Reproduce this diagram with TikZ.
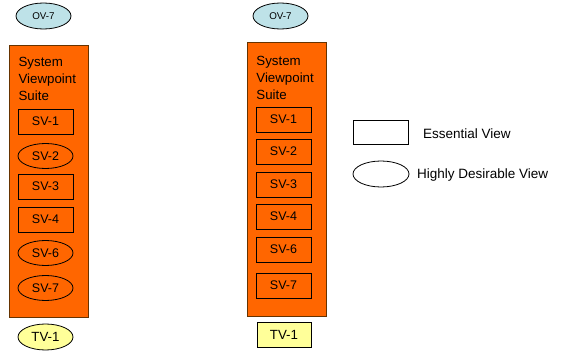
\documentclass[tikz,border=0pt]{standalone}
\usepackage{fontspec}
\setmainfont{Liberation Sans}
\usetikzlibrary{shapes.geometric}
\definecolor{suiteorange}{RGB}{255,102,0}
\definecolor{suiteedge}{RGB}{102,51,0}
\definecolor{opblue}{RGB}{190,226,232}
\definecolor{techyellow}{RGB}{255,255,153}
\tikzset{
  essential/.style={draw,rectangle,line width=0.8pt,minimum width=55pt,minimum height=25pt,inner sep=0pt,font=\fontsize{12.5}{14}\selectfont},
  desirable/.style={draw,ellipse,line width=0.8pt,minimum width=55pt,minimum height=25pt,inner sep=0pt,font=\fontsize{12.5}{14}\selectfont},
  suitebox/.style={draw=suiteedge,fill=suiteorange,line width=1pt,rectangle,inner sep=0pt},
  suitetitle/.style={anchor=north west,inner sep=0pt,align=left,font=\fontsize{13.3}{17}\selectfont},
  legendtext/.style={anchor=west,inner sep=0pt,font=\fontsize{13.5}{15}\selectfont}
}
\begin{document}
\begin{tikzpicture}[x=1pt,y=-1pt]
\useasboundingbox (0,0) rectangle (562,358);
% left column
\node[desirable,fill=opblue,minimum height=26pt,font=\fontsize{9.8}{11}\selectfont] (ovL) at (43.5,16) {OV-7};
\node[suitebox,minimum width=79pt,minimum height=271pt] (suiteL) at (48.5,181.5) {};
\node[suitetitle] (titleL) at (18.4,57.3) {System\\Viewpoint\\Suite};
\node[essential] (svL1) at (45.5,121.5) {SV-1};
\node[desirable] (svL2) at (45.5,156) {SV-2};
\node[essential] (svL3) at (45.5,186.5) {SV-3};
\node[essential] (svL4) at (45.5,219.5) {SV-4};
\node[desirable] (svL6) at (45.5,253) {SV-6};
\node[desirable] (svL7) at (45.5,288) {SV-7};
\node[desirable,fill=techyellow,minimum height=26pt,font=\fontsize{13.3}{15}\selectfont] (tvL) at (45.5,337) {TV-1};
% right column
\node[desirable,fill=opblue,minimum height=26pt,font=\fontsize{9.8}{11}\selectfont] (ovR) at (280.5,16) {OV-7};
\node[suitebox,minimum width=79pt,minimum height=273pt] (suiteR) at (286.5,179.5) {};
\node[suitetitle] (titleR) at (256.2,55.7) {System\\Viewpoint\\Suite};
\foreach \n/\y in {1/119.5,2/151.5,3/184.5,4/216.5,6/249.5,7/285.5}{
  \node[essential] (svR\n) at (283.5,\y) {SV-\n};
}
\node[essential,fill=techyellow,minimum width=54pt,font=\fontsize{13.3}{15}\selectfont] (tvR) at (284,334.5) {TV-1};
% legend
\node[essential,minimum height=24pt] (keyEss) at (380.5,132) {};
\node[legendtext] (keyEssText) at (423,133.5) {Essential View};
\node[desirable,minimum width=56pt,minimum height=26pt] (keyDes) at (381,174) {};
\node[legendtext] (keyDesText) at (417,175) {Highly Desirable View};
\end{tikzpicture}
\end{document}
